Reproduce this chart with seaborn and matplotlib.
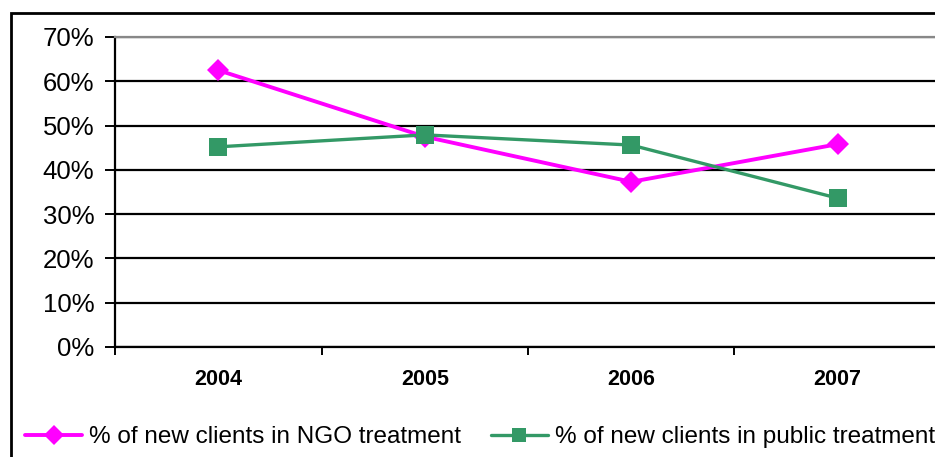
import matplotlib
matplotlib.use("Agg")
import matplotlib.pyplot as plt
import matplotlib.patches as mpatches
from matplotlib.ticker import PercentFormatter
import seaborn as sns
import pandas as pd

years = ["2004", "2005", "2006", "2007"]
ngo = [62.5, 47.5, 37.3, 45.8]
public = [45.2, 47.9, 45.6, 33.6]
series_names = ["% of new clients in NGO treatment", "% of new clients in public treatment"]
yticks = [0, 10, 20, 30, 40, 50, 60, 70]

df = pd.DataFrame({
    "year": years * 2,
    "value": ngo + public,
    "series": [series_names[0]] * len(years) + [series_names[1]] * len(years),
})

sns.set_style("white")
plt.rcParams["font.family"] = ["Liberation Sans", "DejaVu Sans"]
plt.rcParams["text.color"] = "black"
plt.rcParams["xtick.color"] = "black"
plt.rcParams["ytick.color"] = "black"

fig = plt.figure(figsize=(9.35, 4.57), dpi=100)
ax = fig.add_axes([115 / 935, 1 - 347 / 457, (941 - 115) / 935, (347 - 37) / 457])

palette = {series_names[0]: "#FF00FF", series_names[1]: "#339966"}
markers = {series_names[0]: "D", series_names[1]: "s"}
sns.lineplot(data=df, x="year", y="value", hue="series", style="series",
             markers=markers, dashes=False, palette=palette, ax=ax,
             linewidth=2.6, markersize=11, markeredgewidth=0, legend=False,
             sort=False)
for line in ax.lines:
    if line.get_marker() == "s":
        line.set_markersize(13.5)
        line.set_linewidth(2.4)
    else:
        line.set_markersize(11)
        line.set_linewidth(2.8)

ax.set_xlim(-0.5, 3.5)
ax.set_ylim(0, 70)
ax.set_yticks(yticks)
ax.yaxis.set_major_formatter(PercentFormatter(decimals=0))
ax.set_xticks(range(len(years)))
ax.set_xticklabels(years, fontweight="bold", fontsize=15.5)
ax.set_xticks([i - 0.5 for i in range(len(years) + 1)], minor=True)
ax.tick_params(axis="x", which="major", length=0, pad=16, labelcolor="black")
ax.tick_params(axis="x", which="minor", length=6, width=1.4, color="black", direction="out", bottom=True)
ax.tick_params(axis="y", which="major", length=7, width=1.4, color="black", direction="out",
               left=True, labelsize=18.5, pad=8, labelcolor="black")
ax.set_xlabel("")
ax.set_ylabel("")
ax.yaxis.grid(True, color="black", linewidth=1.6)
ax.set_axisbelow(True)
for s in ["left", "bottom"]:
    ax.spines[s].set_color("black")
    ax.spines[s].set_linewidth(1.6)
ax.spines["top"].set_color("#888888")
ax.spines["top"].set_linewidth(1.6)
ax.spines["right"].set_visible(False)

# outer chart border
border = mpatches.Rectangle((11 / 935, -0.1), 1.2, 1.1 - 13 / 457, transform=fig.transFigure,
                            fill=False, edgecolor="black", linewidth=2, clip_on=False)
fig.patches.append(border)

handles = [plt.Line2D([], [], color=palette[n], marker=markers[n],
                      linewidth=2.8 if markers[n] == "D" else 2.4,
                      markersize=10 if markers[n] == "D" else 10.5, markeredgewidth=0) for n in series_names]
fig.legend(handles, series_names, loc="center left", bbox_to_anchor=(25 / 935, 1 - 437 / 457),
           ncol=2, frameon=False, fontsize=17.5, handlelength=2.35, handletextpad=0.3,
           columnspacing=1.2, borderaxespad=0, borderpad=0, labelcolor="black")

fig.savefig("out.png", dpi=100)
